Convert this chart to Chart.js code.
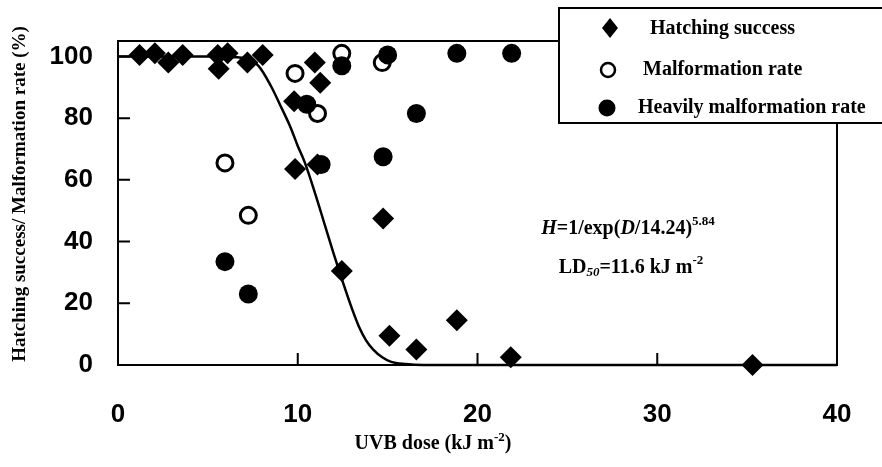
<!DOCTYPE html>
<html>
<head>
<meta charset="utf-8">
<script src="https://cdn.jsdelivr.net/npm/chart.js@4.4.1/dist/chart.umd.min.js"></script>
<style>
  html, body { margin: 0; padding: 0; background: #fff; }
</style>
</head>
<body>
<canvas id="uvbChart" width="882" height="467"></canvas>
<script>
'use strict'

// Hatching success (%) against UVB dose (kJ m-2)
var hatchDose = [1.2, 2.05, 2.8, 3.6, 5.55, 5.6, 6.1, 7.2, 8.05, 9.8, 9.85, 10.95, 11.25, 11.1, 12.45, 14.75, 15.1, 16.6, 18.85, 21.85, 35.3]
var hatchRate = [100.5, 101, 98, 100.5, 100.5, 96, 101, 98, 100.5, 85.5, 63.5, 98, 91.5, 65, 30.5, 47.5, 9.5, 5, 14.5, 2.5, 0]

// Malformation rate (%)
var malfDose = [5.95, 7.25, 9.85, 11.1, 12.45, 14.7]
var malfRate = [65.5, 48.5, 94.5, 81.5, 101, 98]

// Heavily malformation rate (%)
var heavyDose = [5.95, 7.25, 10.5, 11.3, 12.45, 14.75, 15.0, 16.6, 18.85, 21.9]
var heavyRate = [33.5, 23, 84.5, 65, 97, 67.5, 100.5, 81.5, 101, 101]

// fitted curve
var fitDose = [0, 5, 7, 7.8, 8.5, 9, 9.6, 10, 10.4, 11, 11.5, 12, 12.5, 13, 13.4, 13.8, 14.2, 14.7, 15.2, 16, 17, 40]
var fitRate = [100, 100, 99.5, 97, 90.5, 84.5, 77, 71, 65.5, 55, 45.5, 36, 27, 18.5, 12.5, 8, 5, 2.5, 1, 0.3, 0, 0]

var xTicks = [0, 10, 20, 30, 40]
var yTicks = [0, 20, 40, 60, 80, 100]

var SERIF = "'Liberation Serif', 'Times New Roman', serif"
var SANS = "'Liberation Sans', Arial, sans-serif"

function toPoints (xs, ys) {
  return xs.map(function (x, i) { return { x: x, y: ys[i] } })
}

// draw a row of text pieces with their own fonts / offsets, centred on cx
function drawRuns (ctx, runs, cx, cy) {
  var total = 0
  runs.forEach(function (r) {
    ctx.font = r.font
    r.w = ctx.measureText(r.t).width
    total += r.w
  })
  var x = cx - total / 2
  ctx.textAlign = 'left'
  ctx.textBaseline = 'middle'
  runs.forEach(function (r) {
    ctx.font = r.font
    ctx.fillText(r.t, x, cy + (r.dy || 0))
    x += r.w
  })
}

var decorPlugin = {
  id: 'decor',
  beforeDatasetsDraw: function (chart) {
    var ctx = chart.ctx
    var a = chart.chartArea
    var xs = chart.scales.x
    var ys = chart.scales.y
    ctx.save()
    ctx.strokeStyle = '#000'
    ctx.lineWidth = 2
    ctx.strokeRect(a.left, a.top, a.right - a.left, a.bottom - a.top)
    // inward tick marks
    ctx.beginPath()
    yTicks.slice(1).forEach(function (v) {
      var py = ys.getPixelForValue(v)
      ctx.moveTo(a.left, py)
      ctx.lineTo(a.left + 12, py)
    })
    xTicks.slice(1, -1).forEach(function (v) {
      var px = xs.getPixelForValue(v)
      ctx.moveTo(px, a.bottom)
      ctx.lineTo(px, a.bottom - 12)
    })
    ctx.stroke()
    ctx.restore()
  },
  afterDraw: function (chart) {
    var ctx = chart.ctx
    ctx.save()
    ctx.fillStyle = '#000'

    // axis titles
    ctx.save()
    ctx.translate(20, 194)
    ctx.rotate(-Math.PI / 2)
    drawRuns(ctx, [{ t: 'Hatching success/ Malformation rate (%)', font: 'bold 19px ' + SERIF }], 0, 0)
    ctx.restore()

    drawRuns(ctx, [
      { t: 'UVB dose (kJ m', font: 'bold 20px ' + SERIF },
      { t: '-2', font: 'bold 13px ' + SERIF, dy: -6 },
      { t: ')', font: 'bold 20px ' + SERIF }
    ], 433, 444)

    // fit annotation
    drawRuns(ctx, [
      { t: 'H', font: 'italic bold 20px ' + SERIF },
      { t: '=1/exp(', font: 'bold 20px ' + SERIF },
      { t: 'D', font: 'italic bold 20px ' + SERIF },
      { t: '/14.24)', font: 'bold 20px ' + SERIF },
      { t: '5.84', font: 'bold 13px ' + SERIF, dy: -7 }
    ], 628, 229)
    drawRuns(ctx, [
      { t: 'LD', font: 'bold 20px ' + SERIF },
      { t: '50', font: 'italic bold 13px ' + SERIF, dy: 5 },
      { t: '=11.6 kJ m', font: 'bold 20px ' + SERIF },
      { t: '-2', font: 'bold 13px ' + SERIF, dy: -7 }
    ], 631, 268)

    // legend box
    ctx.fillStyle = '#fff'
    ctx.fillRect(559, 8, 340, 115)
    ctx.strokeStyle = '#000'
    ctx.lineWidth = 2
    ctx.strokeRect(559, 8, 340, 115)
    ctx.fillStyle = '#000'
    ctx.beginPath()
    ctx.moveTo(610, 18); ctx.lineTo(618, 28); ctx.lineTo(610, 38); ctx.lineTo(602, 28)
    ctx.closePath()
    ctx.fill()
    ctx.beginPath()
    ctx.arc(608, 70, 7, 0, Math.PI * 2)
    ctx.lineWidth = 2.5
    ctx.stroke()
    ctx.beginPath()
    ctx.arc(607, 108, 8.5, 0, Math.PI * 2)
    ctx.fill()
    ctx.font = 'bold 20px ' + SERIF
    ctx.textAlign = 'left'
    ctx.textBaseline = 'middle'
    ctx.fillText('Hatching success', 650, 29)
    ctx.fillText('Malformation rate', 643, 70)
    ctx.fillText('Heavily malformation rate', 638, 108)
    ctx.restore()
  }
}

var ctx = document.getElementById('uvbChart').getContext('2d')

// eslint-disable-next-line no-unused-vars
var uvbChart = new Chart(ctx, {
  type: 'scatter',
  data: {
    datasets: [
      {
        label: 'Hatching success',
        data: toPoints(hatchDose, hatchRate),
        pointStyle: 'rectRot',
        pointRadius: 11,
        pointHoverRadius: 11,
        backgroundColor: '#000',
        borderColor: '#000',
        borderWidth: 0,
        clip: false,
        order: 0
      },
      {
        label: 'Heavily malformation rate',
        data: toPoints(heavyDose, heavyRate),
        pointStyle: 'circle',
        pointRadius: 9.5,
        pointHoverRadius: 9.5,
        backgroundColor: '#000',
        borderColor: '#000',
        borderWidth: 0,
        clip: false,
        order: 1
      },
      {
        label: 'Malformation rate',
        data: toPoints(malfDose, malfRate),
        pointStyle: 'circle',
        pointRadius: 8,
        pointHoverRadius: 8,
        backgroundColor: '#fff',
        borderColor: '#000',
        borderWidth: 3,
        clip: false,
        order: 2
      },
      {
        label: 'Fit',
        data: toPoints(fitDose, fitRate),
        showLine: true,
        pointRadius: 0,
        borderColor: '#000',
        borderWidth: 2.5,
        cubicInterpolationMode: 'monotone',
        clip: false,
        order: 3
      }
    ]
  },
  options: {
    responsive: false,
    animation: false,
    layout: { padding: { left: 0, top: 41, right: 45, bottom: 0 } },
    plugins: {
      legend: { display: false },
      tooltip: { enabled: false }
    },
    scales: {
      x: {
        type: 'linear',
        min: 0,
        max: 40,
        afterBuildTicks: function (scale) {
          scale.ticks = xTicks.map(function (v) { return { value: v } })
        },
        afterFit: function (scale) { scale.height = 102 },
        grid: { display: false },
        border: { display: false },
        ticks: {
          color: '#000',
          padding: 26,
          maxRotation: 0,
          font: { family: SANS, size: 26, weight: 'bold' }
        }
      },
      y: {
        min: 0,
        max: 105,
        afterBuildTicks: function (scale) {
          scale.ticks = yTicks.map(function (v) { return { value: v } })
        },
        afterFit: function (scale) { scale.width = 118 },
        grid: { display: false },
        border: { display: false },
        ticks: {
          color: '#000',
          padding: 17,
          font: { family: SANS, size: 26, weight: 'bold' }
        }
      }
    }
  },
  plugins: [decorPlugin]
})
</script>
</body>
</html>
